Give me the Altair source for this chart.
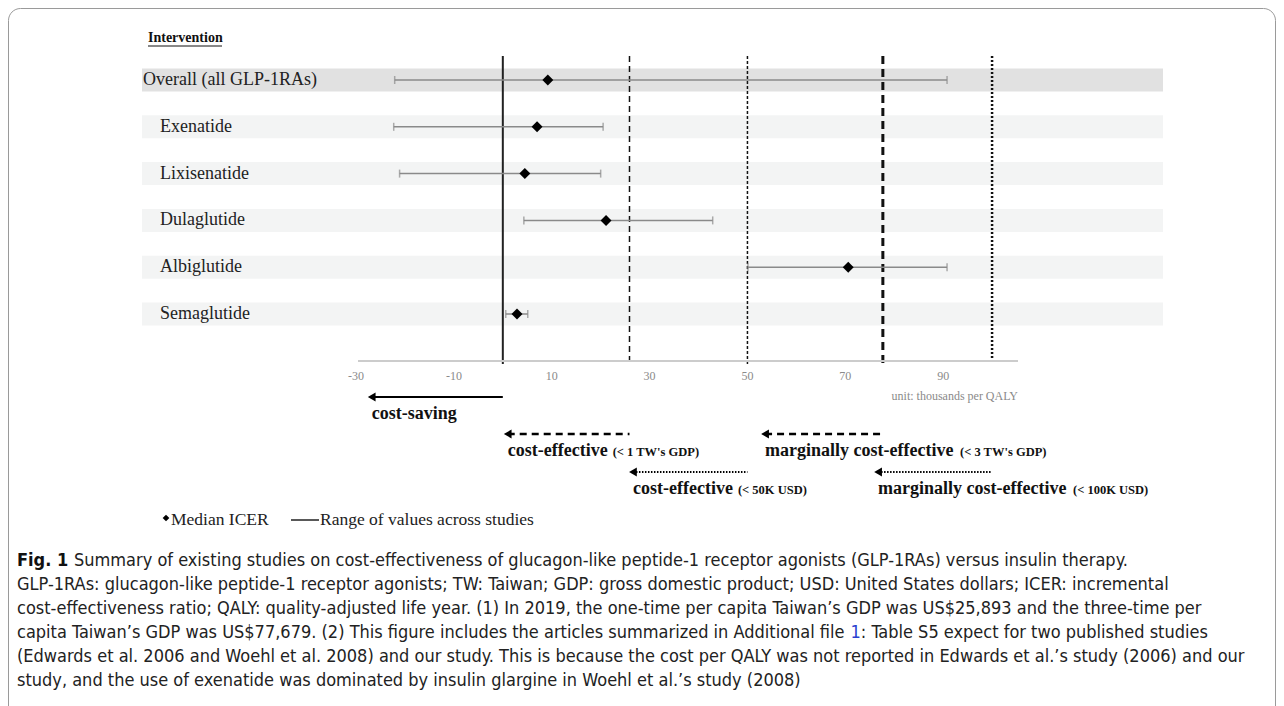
import altair as alt
import pandas as pd

# ---------------- data ----------------
interventions = ["Overall (all GLP-1RAs)", "Exenatide", "Lixisenatide",
                 "Dulaglutide", "Albiglutide", "Semaglutide"]
icer_low = [-22.1, -22.3, -21.1, 4.3, 50.1, 0.6]
icer_median = [9.2, 7.0, 4.5, 21.1, 70.6, 2.9]
icer_high = [90.8, 20.5, 20.0, 42.9, 90.8, 5.1]

tick_values = [-30, -10, 10, 30, 50, 70, 90]
tick_labels = ["-30", "-10", "10", "30", "50", "70", "90"]

threshold_values = [0, 25.893, 50, 77.679, 100]
arrow_tips = [-26.8, 1.0, 26.6, 53.6, 76.7]
arrow_main = ["cost-saving", "cost-effective", "cost-effective",
              "marginally cost-effective", "marginally cost-effective"]
arrow_paren = ["", "(< 1 TW's GDP)", "(< 50K USD)", "(< 3 TW's GDP)", "(< 100K USD)"]

caption_lines = [
    "Summary of existing studies on cost-effectiveness of glucagon-like peptide-1 receptor agonists (GLP-1RAs) versus insulin therapy.",
    "GLP-1RAs: glucagon-like peptide-1 receptor agonists; TW: Taiwan; GDP: gross domestic product; USD: United States dollars; ICER: incremental",
    "cost-effectiveness ratio; QALY: quality-adjusted life year. (1) In 2019, the one-time per capita Taiwan\u2019s GDP was US$25,893 and the three-time per",
    "capita Taiwan\u2019s GDP was US$77,679. (2) This figure includes the articles summarized in Additional file ",
    "(Edwards et al. 2006 and Woehl et al. 2008) and our study. This is because the cost per QALY was not reported in Edwards et al.\u2019s study (2006) and our",
    "study, and the use of exenatide was dominated by insulin glargine in Woehl et al.\u2019s study (2008)",
]
link_text = "1"
line4_rest = ": Table S5 expect for two published studies"

# ---------------- layout / styles ----------------
W, H = 1268, 698
XMIN, XMAX = -29.6, 105.3
SERIF = "Liberation Serif"
CAPFONT = "DejaVu Sans Condensed"
CAPSIZE = 18

xs = alt.Scale(domain=[XMIN, XMAX], range=[350, 1010])
ys = alt.Scale(type="point", domain=interventions, range=[72, 306], padding=0)

rows = pd.DataFrame({"name": interventions, "low": icer_low,
                     "median": icer_median, "high": icer_high})
one = pd.DataFrame({"a": [0]})

layers = []

# frame
layers.append(alt.Chart(one).mark_rect(fill="white", stroke="#9a9a9a", strokeWidth=1,
                                        cornerRadius=12).encode(
    x=alt.value(0.5), x2=alt.value(W - 0.5), y=alt.value(0.5), y2=alt.value(H + 40)))

# row bands
layers.append(alt.Chart(rows).mark_rule(strokeWidth=23, strokeCap="butt").encode(
    y=alt.Y("name:N", scale=ys, axis=None),
    x=alt.value(134), x2=alt.value(1155),
    color=alt.condition(alt.datum.name == interventions[0],
                        alt.value("#e1e1e1"), alt.value("#f3f4f4"))))

# row labels
layers.append(alt.Chart(rows).transform_filter(alt.datum.name == interventions[0]).mark_text(
    align="left", baseline="middle", font=SERIF, fontSize=18, color="#222").encode(
    y=alt.Y("name:N", scale=ys, axis=None), x=alt.value(135), text="name:N"))
layers.append(alt.Chart(rows).transform_filter(alt.datum.name != interventions[0]).mark_text(
    align="left", baseline="middle", font=SERIF, fontSize=18, color="#222").encode(
    y=alt.Y("name:N", scale=ys, axis=None), x=alt.value(152), text="name:N"))

# header
layers.append(alt.Chart(pd.DataFrame({"t": ["Intervention"]})).mark_text(
    align="left", baseline="middle", font=SERIF, fontSize=14, fontWeight="bold", color="#111").encode(
    x=alt.value(140), y=alt.value(30), text="t:N"))
layers.append(alt.Chart(one).mark_rule(color="#111", strokeWidth=1).encode(
    x=alt.value(140), x2=alt.value(214), y=alt.value(38)))

# threshold reference lines
ref_styles = [
    dict(strokeWidth=2, strokeDash=[1, 0], color="#222"),
    dict(strokeWidth=1.5, strokeDash=[6, 4], color="#111"),
    dict(strokeWidth=1.5, strokeDash=[3, 2], color="#111"),
    dict(strokeWidth=3, strokeDash=[8, 5], color="#111"),
    dict(strokeWidth=2.5, strokeDash=[2, 2], color="#111"),
]
for v, st in zip(threshold_values, ref_styles):
    layers.append(alt.Chart(pd.DataFrame({"v": [v]})).mark_rule(**st).encode(
        x=alt.X("v:Q", scale=xs, axis=None), y=alt.value(48), y2=alt.value(356)))

# axis line and labels
layers.append(alt.Chart(pd.DataFrame({"a": [XMIN], "b": [XMAX]})).mark_rule(
    color="#cccccc", strokeWidth=2).encode(
    x=alt.X("a:Q", scale=xs, axis=None), x2="b:Q", y=alt.value(353)))
layers.append(alt.Chart(pd.DataFrame({"t": tick_values, "lab": tick_labels})).mark_text(
    baseline="middle", font=SERIF, fontSize=12, color="#8a8a8a").encode(
    x=alt.X("t:Q", scale=xs, axis=None), y=alt.value(368), text="lab:N"))
layers.append(alt.Chart(pd.DataFrame({"t": ["unit: thousands per QALY"], "v": [XMAX]})).mark_text(
    align="right", baseline="middle", font=SERIF, fontSize=12, color="#8a8a8a").encode(
    x=alt.X("v:Q", scale=xs, axis=None), y=alt.value(388), text="t:N"))

# error bars (range) with caps
layers.append(alt.Chart(rows).mark_rule(color="#8a8a8a", strokeWidth=1.5).encode(
    x=alt.X("low:Q", scale=xs, axis=None), x2="high:Q",
    y=alt.Y("name:N", scale=ys, axis=None)))
layers.append(alt.Chart(rows).transform_fold(["low", "high"], as_=["end", "val"]).mark_tick(
    color="#8a8a8a", thickness=1.5, size=8, orient="vertical").encode(
    x=alt.X("val:Q", scale=xs, axis=None), y=alt.Y("name:N", scale=ys, axis=None)))

# medians
layers.append(alt.Chart(rows).mark_point(shape="diamond", filled=True, size=120,
                                          color="black", opacity=1).encode(
    x=alt.X("median:Q", scale=xs, axis=None), y=alt.Y("name:N", scale=ys, axis=None)))

# arrows with labels
arrow_rows = [389, 426, 464, 426, 464]
arrow_styles = [
    dict(strokeWidth=2, strokeDash=[1, 0]),
    dict(strokeWidth=2.5, strokeDash=[7, 5]),
    dict(strokeWidth=2, strokeDash=[1.5, 1.5]),
    dict(strokeWidth=2.5, strokeDash=[7, 5]),
    dict(strokeWidth=2, strokeDash=[1.5, 1.5]),
]
paren_dx = [0, 105, 105, 195, 195]
for i in range(len(threshold_values)):
    d = pd.DataFrame({"tip": [arrow_tips[i]], "end": [threshold_values[i]],
                      "main": [arrow_main[i]], "paren": [arrow_paren[i]]})
    yv = arrow_rows[i]
    layers.append(alt.Chart(d).mark_rule(color="black", **arrow_styles[i]).encode(
        x=alt.X("tip:Q", scale=xs, axis=None), x2="end:Q", y=alt.value(yv)))
    layers.append(alt.Chart(d).mark_point(shape="triangle-left", filled=True, size=80,
                                           color="black", opacity=1, dx=2).encode(
        x=alt.X("tip:Q", scale=xs, axis=None), y=alt.value(yv)))
    layers.append(alt.Chart(d).mark_text(align="left", baseline="middle", font=SERIF,
                                          fontSize=18, fontWeight="bold", color="#111").encode(
        x=alt.X("tip:Q", scale=xs, axis=None), y=alt.value(yv + 17), text="main:N"))
    if arrow_paren[i]:
        layers.append(alt.Chart(d).mark_text(align="left", baseline="middle", font=SERIF,
                                              fontSize=12.5, fontWeight="bold", color="#111",
                                              dx=paren_dx[i]).encode(
            x=alt.X("tip:Q", scale=xs, axis=None), y=alt.value(yv + 18), text="paren:N"))

# bottom legend
layers.append(alt.Chart(one).mark_point(shape="diamond", filled=True, size=45,
                                         color="black", opacity=1).encode(
    x=alt.value(158), y=alt.value(510)))
layers.append(alt.Chart(pd.DataFrame({"t": ["Median ICER"]})).mark_text(
    align="left", baseline="middle", font=SERIF, fontSize=17.5, color="#222").encode(
    x=alt.value(163), y=alt.value(512), text="t:N"))
layers.append(alt.Chart(one).mark_rule(color="#222", strokeWidth=1.5).encode(
    x=alt.value(283), x2=alt.value(311), y=alt.value(512)))
layers.append(alt.Chart(pd.DataFrame({"t": ["Range of values across studies"]})).mark_text(
    align="left", baseline="middle", font=SERIF, fontSize=17.5, color="#222").encode(
    x=alt.value(312), y=alt.value(512), text="t:N"))

# caption
cap_y = [553, 577, 601, 625, 649, 673]
layers.append(alt.Chart(pd.DataFrame({"t": ["Fig. 1"]})).mark_text(
    align="left", baseline="middle", font=CAPFONT, fontSize=CAPSIZE, fontWeight="bold",
    color="#111").encode(x=alt.value(9), y=alt.value(cap_y[0]), text="t:N"))
for i, line in enumerate(caption_lines):
    layers.append(alt.Chart(pd.DataFrame({"t": [line]})).mark_text(
        align="left", baseline="middle", font=CAPFONT, fontSize=CAPSIZE, color="#222").encode(
        x=alt.value(66 if i == 0 else 9), y=alt.value(cap_y[i]), text="t:N"))
layers.append(alt.Chart(pd.DataFrame({"t": [link_text]})).mark_text(
    align="left", baseline="middle", font=CAPFONT, fontSize=CAPSIZE, color="#2a3fd0").encode(
    x=alt.value(842.5), y=alt.value(cap_y[3]), text="t:N"))
layers.append(alt.Chart(pd.DataFrame({"t": [line4_rest]})).mark_text(
    align="left", baseline="middle", font=CAPFONT, fontSize=CAPSIZE, color="#222").encode(
    x=alt.value(852.8), y=alt.value(cap_y[3]), text="t:N"))

chart = alt.layer(*layers).properties(
    width=W, height=H, autosize=alt.AutoSizeParams(type="none"), padding=0,
    background="white"
).configure_view(stroke=None)

chart.save("out.html", embed_options={"renderer": "svg", "actions": False})
